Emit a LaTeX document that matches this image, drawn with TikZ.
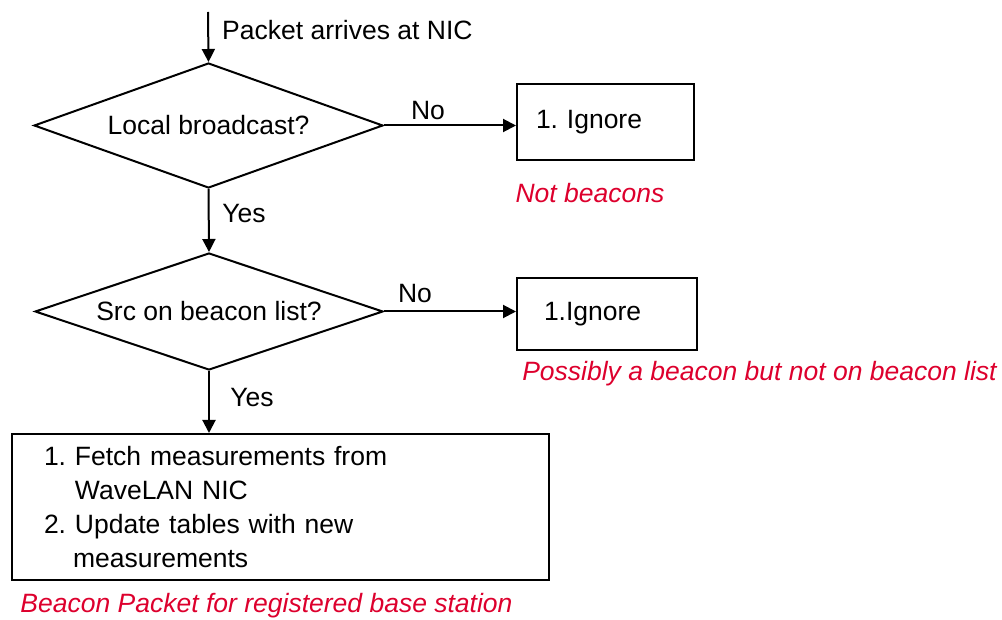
\documentclass[tikz,border=0pt]{standalone}
\usepackage{fontspec}
\setmainfont{Liberation Sans}
\usetikzlibrary{shapes.geometric,arrows.meta}
\definecolor{noteRed}{RGB}{221,0,45}
\frenchspacing
\tikzset{
  base/.style={font=\fontsize{26.5}{34}\selectfont, inner sep=0pt},
  decision/.style={base, draw, line width=2pt, diamond, aspect=2.8},
  actbox/.style={base, draw, line width=2pt, rectangle, align=left},
  lbl/.style={base},
  note/.style={base, text=noteRed, font=\fontsize{26.5}{34}\selectfont\itshape},
  flow/.style={line width=2pt, -{Triangle[length=13pt,width=13pt]}}
}
\begin{document}
\begin{tikzpicture}[x=1pt,y=-1pt]
\useasboundingbox (0,0) rectangle (1002,620);
\coordinate (start) at (208,12);
\node[decision, minimum width=349pt, minimum height=125pt] (d1) at (208.5,125.5) {Local broadcast?};
\node[decision, minimum width=348pt, minimum height=117pt] (d2) at (209,311.5) {Src on beacon list?};
\node[actbox, minimum width=177pt, minimum height=76pt, text width=158pt] (b1) at (605.5,122) {\hspace*{9.5pt}1. Ignore};
\node[actbox, minimum width=180pt, minimum height=72pt, text width=161pt] (b2) at (607,314) {\hspace*{17.5pt}1.Ignore};
\node[actbox, minimum width=537pt, minimum height=146pt, text width=505pt] (b3) at (280.5,507)
  {\hspace*{16pt}1. Fetch measurements from\\
   \hspace*{47pt}WaveLAN NIC\\
   \hspace*{16pt}2. Update tables with new\\
   \hspace*{45pt}measurements};
\node[lbl, anchor=west] (t0) at (222,30) {Packet arrives at NIC};
\node[lbl] (no1) at (428,111) {No};
\node[lbl] (no2) at (415,294) {No};
\node[lbl] (yes1) at (244,214) {Yes};
\node[lbl] (yes2) at (252,398) {Yes};
\node[note] (n1) at (590,193) {Not beacons};
\node[note] (n2) at (759.5,374) {Possibly a beacon but not on beacon list};
\node[note] (n3) at (266.5,606) {Beacon Packet for registered base station};
\draw[flow] (start) -- (d1.north);
\draw[flow] (d1.east) -- (d1.east -| b1.west);
\draw[flow] (d1.south) -- (d2.north);
\draw[flow] (d2.east) -- (d2.east -| b2.west);
\draw[flow] (d2.south) -- (d2.south |- b3.north);
\end{tikzpicture}
\end{document}
